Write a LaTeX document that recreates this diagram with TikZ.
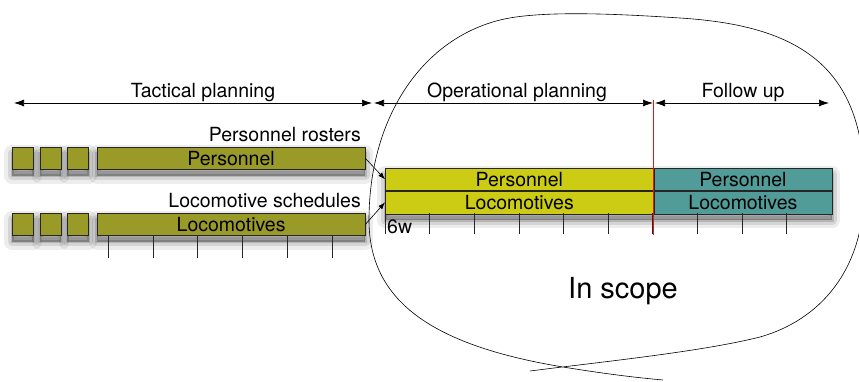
\documentclass[tikz,border=0pt]{standalone}
\usepackage{fontspec}
\setmainfont{TeX Gyre Heros}
\usetikzlibrary{arrows.meta,positioning,shadows,backgrounds}

\definecolor{tacolive}{RGB}{154,154,40}
\definecolor{opyellow}{RGB}{204,204,20}
\definecolor{fupteal}{RGB}{81,156,152}
\definecolor{nowred}{RGB}{235,20,20}

\tikzset{
  bar/.style={draw=black!85, line width=0.6pt, inner sep=0pt, minimum height=22pt,
    anchor=north west, font=\fontsize{19.5}{21}\selectfont},
  sqbox/.style={bar, fill=tacolive, minimum width=21pt},
  dimarrow/.style={{Latex[length=10pt,width=7pt]}-{Latex[length=10pt,width=7pt]}, line width=0.7pt},
  feed/.style={-{Latex[length=7pt,width=5pt]}, line width=0.6pt},
  lbl/.style={font=\fontsize{19.5}{21}\selectfont, inner sep=0pt},
  rowshadow/.style={shadow xshift=0pt, shadow yshift=-6pt,
    general shadow={fill=black, draw=black, opacity=0.07, line width=16pt, line join=round},
    general shadow={fill=black, draw=black, opacity=0.10, line width=9pt, line join=round},
    general shadow={fill=black, draw=black, opacity=0.15, line width=3pt}},
  tick/.style={line width=0.6pt, black!85}
}

\begin{document}
\begin{tikzpicture}[x=1pt, y=-1pt]
  \useasboundingbox (0,0) rectangle (859,381);

  % Zona "In scope"
  \draw[line width=0.6pt] (530,371) .. controls (600,362) and (700,352) .. (760,337)
    .. controls (820,320) and (864,270) .. (864,190)
    .. controls (866,60) and (790,25) .. (680,18)
    .. controls (620,14) and (540,10) .. (500,20)
    .. controls (420,40) and (369,120) .. (369,220)
    .. controls (369,300) and (430,345) .. (563,367)
    .. controls (600,373) and (630,377) .. (663,380);
  \node[font=\fontsize{29}{32}\selectfont, inner sep=0pt, anchor=base] (scope) at (623,298) {In scope};

  % Flechas de horizonte
  \coordinate (tacL) at (14,103);  \coordinate (tacR) at (372,103);
  \coordinate (opL)  at (374,103); \coordinate (opR)  at (653,103);
  \coordinate (fuL)  at (655,103); \coordinate (fuR)  at (829,103);
  \draw[dimarrow] (tacL) -- (tacR);
  \draw[dimarrow] (opL) -- (opR);
  \draw[dimarrow] (fuL) -- (fuR);
  \node[lbl, anchor=base] (taclbl) at (203,97) {Tactical planning};
  \node[lbl, anchor=base] (oplbl)  at (517,97) {Operational planning};
  \node[lbl, anchor=base] (fulbl)  at (743,97) {Follow up};

  % Planificacion tactica
  \node[sqbox] (tp1) at (12,147) {};
  \node[sqbox, right=6pt of tp1] (tp2) {};
  \node[sqbox, right=6pt of tp2] (tp3) {};
  \node[bar, fill=tacolive, minimum width=268pt, right=8pt of tp3] (tpers) {Personnel};
  \node[sqbox] (tl1) at (12,213) {};
  \node[sqbox, right=6pt of tl1] (tl2) {};
  \node[sqbox, right=6pt of tl2] (tl3) {};
  \node[bar, fill=tacolive, minimum width=268pt, right=8pt of tl3] (tloco) {Locomotives};
  \node[lbl, anchor=base east] (roster) at (361,141) {Personnel rosters};
  \node[lbl, anchor=base east] (sched)  at (361,207) {Locomotive schedules};
  \foreach \i in {0,...,5}
    \draw[tick] (108+44.8*\i,235) -- ++(0,23);

  % Planificacion operativa y seguimiento
  \node[bar, fill=opyellow, minimum width=268pt] (opers) at (385,168) {Personnel};
  \node[bar, fill=fupteal, minimum width=178pt, right=0pt of opers] (fpers) {Personnel};
  \node[bar, fill=opyellow, minimum width=268pt, minimum height=23pt, below=0pt of opers] (oloco) {Locomotives};
  \node[bar, fill=fupteal, minimum width=178pt, minimum height=23pt, below=0pt of fpers] (floco) {Locomotives};
  \foreach \i in {0,...,9}
    \draw[tick] (385+44.6*\i,213) -- ++(0,21);
  \node[lbl, anchor=base west] (weeks) at (387,233) {6w};
  \draw[nowred, line width=1pt] (653.5,100) -- (653.5,235);

  % Sombras
  \begin{scope}[on background layer]
    \foreach \n in {tp1,tp2,tp3,tpers,tl1,tl2,tl3,tloco}
      \path[rowshadow] (\n.north west) rectangle (\n.south east);
    \path[rowshadow] (opers.north west) rectangle (floco.south east);
  \end{scope}

  % Entradas
  \draw[feed] (tpers.east) -- (opers.west);
  \draw[feed] (tloco.east) -- (oloco.west);
\end{tikzpicture}
\end{document}
